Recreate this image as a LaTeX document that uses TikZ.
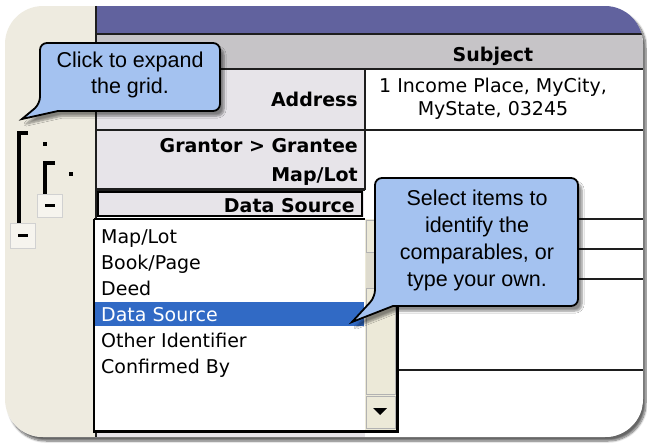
\documentclass[tikz,border=0pt]{standalone}
\usepackage{fontspec}
\setmainfont{Liberation Sans}
\newfontfamily\uifont{DejaVu Sans}
\usetikzlibrary{shadows.blur}
\definecolor{beige}{RGB}{238,235,224}
\definecolor{hdrpurple}{RGB}{97,98,158}
\definecolor{hdrgray}{RGB}{198,196,199}
\definecolor{labelgray}{RGB}{231,228,233}
\definecolor{tipblue}{RGB}{164,194,240}
\definecolor{selblue}{RGB}{49,106,197}
\definecolor{scrollbeige}{RGB}{236,233,216}
\definecolor{trackgray}{RGB}{222,219,206}
\definecolor{gridline}{RGB}{30,30,30}
\definecolor{btnface}{RGB}{246,244,238}
\begin{document}
\begin{tikzpicture}[x=1pt,y=-1pt,
  lbl/.style={font=\uifont\bfseries\fontsize{19}{19}\selectfont, anchor=base east, inner sep=0},
  itm/.style={font=\uifont\fontsize{19}{19}\selectfont, anchor=base west, inner sep=0},
  celltext/.style={font=\uifont\fontsize{19}{19}\selectfont, anchor=base, inner sep=0},
  tiptext/.style={font=\fontsize{21.5}{21.5}\selectfont, anchor=base, inner sep=0},
  gridrule/.style={draw=gridline, line width=1.8pt},
  callout/.style={draw=black, fill=tipblue, line width=1.8pt, line join=miter,
    blur shadow={shadow xshift=4pt, shadow yshift=-5pt, shadow blur steps=6, shadow opacity=45}},
  treeline/.style={draw=black, line width=3.6pt},
  expbtn/.style={draw=black!18, fill=btnface, line width=0.8pt}]
\useasboundingbox (0,0) rectangle (647,444);
% card with shadow
\path[fill=white, rounded corners=38pt,
  blur shadow={shadow xshift=3pt, shadow yshift=-4pt, shadow blur steps=8, shadow opacity=60}]
  (5,6) rectangle (643,437);
\begin{scope}
\clip[rounded corners=38pt] (5,6) rectangle (643,437);
\fill[beige] (5,6) rectangle (96,437);
\fill[hdrpurple] (96,6) rectangle (643,34);
\fill[hdrgray] (96,34) rectangle (643,69);
\fill[labelgray] (96,69) rectangle (365,190);
\fill[white] (365,69) rectangle (643,437);
\fill[labelgray] (96,190) rectangle (364,217);
\fill[labelgray] (96,430) rectangle (365,437);
% grid rules
\draw[draw=gridline, line width=2.4pt] (96,6) -- (96,437);
\draw[draw=gridline, line width=2.2pt] (96,34) -- (643,34);
\draw[gridrule] (96,69) -- (643,69);
\draw[gridrule] (365,69) -- (365,190);
\draw[gridrule] (96,130) -- (643,130);
\draw[draw=gridline, line width=3pt] (96,189) -- (365,189);
\draw[gridrule] (397,219) -- (643,219);
\draw[gridrule] (397,249) -- (643,249);
\draw[gridrule] (397,279) -- (643,279);
\draw[gridrule] (397,370) -- (643,370);
\draw[draw=black, line width=1.5pt] (98,192) rectangle (362,216);
\end{scope}
% header and cell texts
\node[lbl, anchor=base] (subject) at (493,61) {Subject};
\node[lbl] (address) at (358,106) {Address};
\node[celltext] (addr1) at (493,92) {1 Income Place, MyCity,};
\node[celltext] (addr2) at (493,115) {MyState, 03245};
\node[lbl] (grantor) at (358,152) {Grantor > Grantee};
\node[lbl] (maplot) at (358,181) {Map/Lot};
\node[lbl] (datasrc) at (355,212) {Data Source};
% drop-down list
\fill[white] (94,219) rectangle (365,430);
\fill[selblue] (95,302) rectangle (364,326);
\node[itm] (i1) at (101,243) {Map/Lot};
\node[itm] (i2) at (101,269) {Book/Page};
\node[itm] (i3) at (101,295) {Deed};
\node[itm, text=white] (i4) at (101,321) {Data Source};
\node[itm] (i5) at (101,347) {Other Identifier};
\node[itm] (i6) at (101,373) {Confirmed By};
% scrollbar
\fill[scrollbeige] (365,219) rectangle (396,430);
\fill[trackgray] (366,252) rectangle (395,288);
\draw[draw=black!30, fill=scrollbeige, line width=0.8pt] (366,220) rectangle (395,252);
\draw[draw=black!30, fill=scrollbeige, line width=0.8pt] (366,288) rectangle (395,394);
\draw[draw=black!30, fill=scrollbeige, line width=0.8pt] (366,396) rectangle (395,428);
\fill[black] (373,408) -- (387,408) -- (380,415) -- cycle;
\draw[draw=black, line width=1.4pt] (94,219) -- (94,430);
\draw[draw=black, line width=1.4pt] (94,219) -- (365,219);
\draw[draw=black, line width=3pt] (397,219) -- (397,431) -- (93,431);
% expand tree on the left
\draw[treeline] (28,133) -- (19,133) -- (19,224);
\fill[black] (43.3,142.3) rectangle (46.7,145.7);
\draw[treeline] (55,163) -- (45,163) -- (45,194);
\fill[black] (69.3,172.3) rectangle (72.7,175.7);
\draw[expbtn] (37,194) rectangle (62,217);
\draw[black, line width=3pt] (45,205.5) -- (55,205.5);
\draw[expbtn] (10,223) rectangle (35,248);
\draw[black, line width=3pt] (18,235.5) -- (28,235.5);
% callout 1
\path[callout] (58,111) [rounded corners=7pt] -- (220,111) -- (220,43) -- (40,43) -- (40,104) [sharp corners] -- (22,119) -- cycle;
\node[tiptext] (tip1a) at (130,67) {Click to expand};
\node[tiptext] (tip1b) at (130,93) {the grid.};
% callout 2
\path[callout] (393,306) [rounded corners=7pt] -- (578,306) -- (578,178) -- (375,178) -- (375,297) [sharp corners] -- (352,322) -- cycle;
\node[tiptext] (tip2a) at (477,205) {Select items to};
\node[tiptext] (tip2b) at (477,232) {identify the};
\node[tiptext] (tip2c) at (477,259) {comparables, or};
\node[tiptext] (tip2d) at (477,286) {type your own.};
\end{tikzpicture}
\end{document}
